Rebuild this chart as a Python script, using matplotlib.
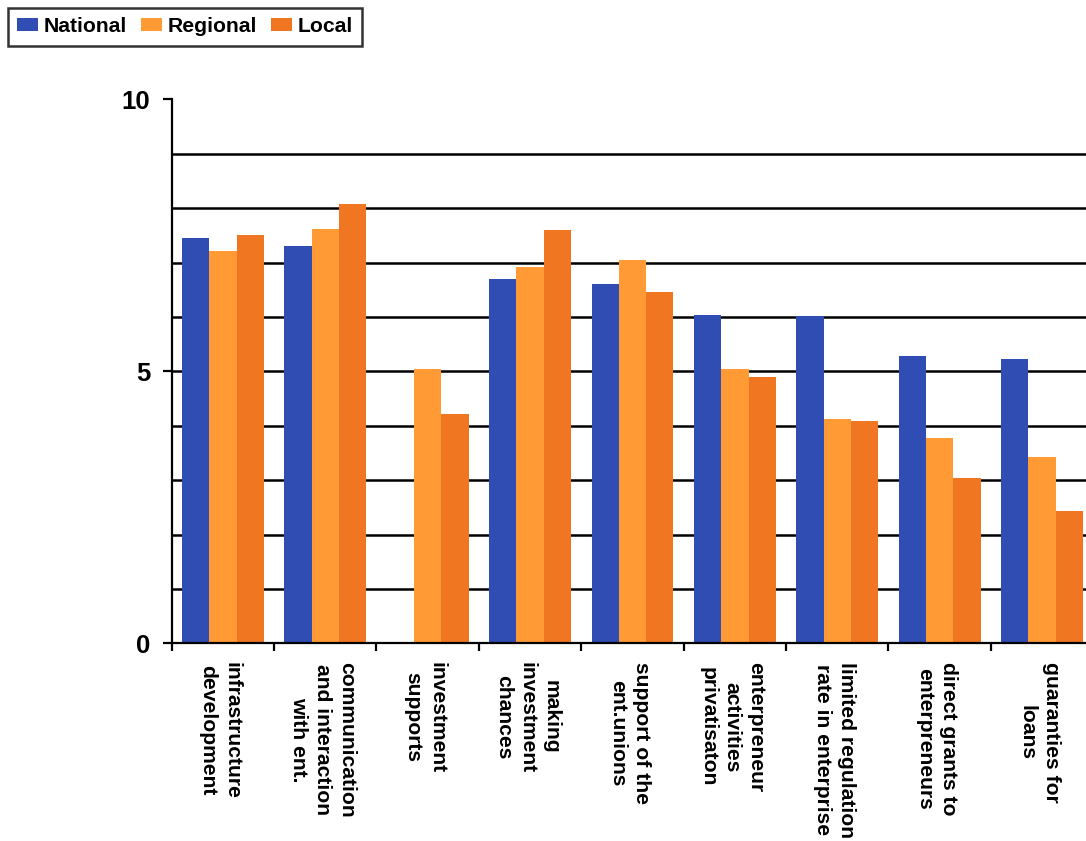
import matplotlib
matplotlib.use("Agg")
import matplotlib.pyplot as plt
import numpy as np

categories = [
    "infrastructure\ndevelopment",
    "communication\nand interaction\nwith ent.",
    "investment\nsupports",
    "making\ninvestment\nchances",
    "support of the\nent.unions",
    "enterpreneur\nactivities\nprivatisaton",
    "limited regulation\nrate in enterprise",
    "direct grants to\nenterpreneurs",
    "guaranties for\nloans",
]
national = [7.45, 7.31, 0.0, 6.70, 6.61, 6.04, 6.01, 5.29, 5.23]
regional = [7.22, 7.61, 5.05, 6.92, 7.05, 5.05, 4.13, 3.78, 3.43]
local = [7.51, 8.08, 4.22, 7.59, 6.45, 4.90, 4.09, 3.04, 2.43]
series_names = ["National", "Regional", "Local"]
colors = ["#2F4DB2", "#FF9A35", "#F07622"]
y_ticks = [0, 5, 10]
grid_levels = [1, 2, 3, 4, 5, 6, 7, 8, 9]

plt.rcParams["font.family"] = ["Liberation Sans", "DejaVu Sans"]
plt.rcParams["font.weight"] = "bold"

W, H = 1086, 841
fig = plt.figure(figsize=(W / 100, H / 100), dpi=100)
left = 171.7 / W
right = 1093.3 / W
bottom = 1 - 643.3 / H
top = 1 - 99.3 / H
ax = fig.add_axes([left, bottom, right - left, top - bottom])

n = len(categories)
x = np.arange(n)
bw = 0.8 / 3
for i, (vals, name, c) in enumerate(zip([national, regional, local], series_names, colors)):
    ax.bar(x - 0.4 + bw * (i + 0.5), vals, width=bw, color=c, label=name, zorder=3)

for g in grid_levels:
    ax.axhline(g, color="black", lw=1.8, zorder=1, clip_on=False)

ax.set_xlim(-0.5, n - 0.5)
ax.set_ylim(0, 10)
ax.set_yticks(y_ticks)
ax.set_yticklabels([str(t) for t in y_ticks], fontsize=18.5, fontweight="bold")
ax.tick_params(axis="y", direction="out", length=6.5, width=1.6, pad=9)

ax.set_xticks(np.arange(n + 1) - 0.5)
ax.set_xticklabels([])
ax.tick_params(axis="x", direction="out", length=5.5, width=1.6)
for xi, lab in zip(x, categories):
    ax.annotate(lab, xy=(xi, 0), xycoords=("data", "axes fraction"),
                xytext=(-3, -18.5), textcoords="offset pixels",
                rotation=-90, ha="center", va="top", multialignment="center",
                fontsize=15.2, fontweight="bold", linespacing=1.33,
                annotation_clip=False)

for s in ["top", "right"]:
    ax.spines[s].set_visible(False)
for s in ["left", "bottom"]:
    ax.spines[s].set_linewidth(1.6)
    ax.spines[s].set_zorder(4)

leg = fig.legend(loc="upper left", bbox_to_anchor=(7.5 / W, 1 - 7.5 / H),
                 ncol=3, fontsize=15.2, frameon=True, fancybox=False, shadow=False,
                 handlelength=1.0, handleheight=0.62, handletextpad=0.25,
                 columnspacing=0.68, borderpad=0.45, borderaxespad=0)
leg.get_frame().set_edgecolor("black")
leg.get_frame().set_linewidth(1.8)
for t in leg.get_texts():
    t.set_fontweight("bold")

fig.savefig("out.png", dpi=100)
